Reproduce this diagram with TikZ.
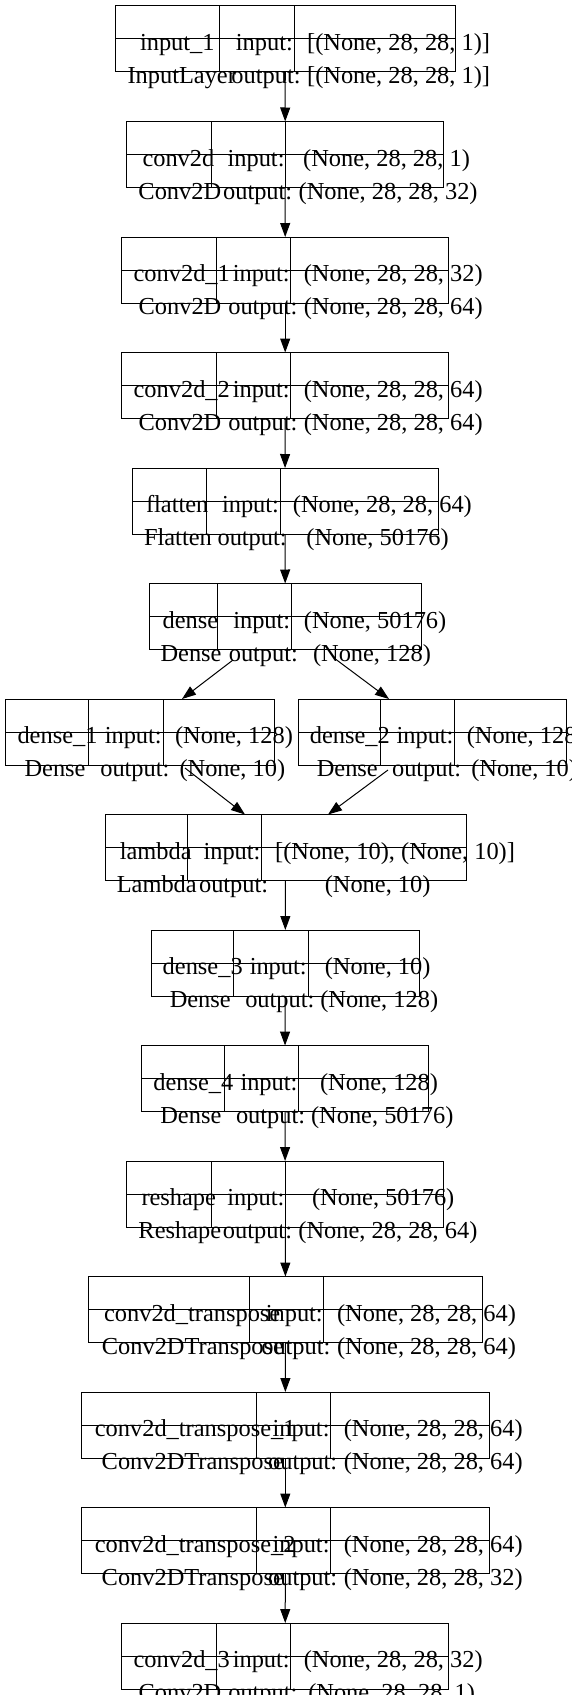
\documentclass[tikz,border=0pt]{standalone}
\usepackage{fontspec}
\setmainfont{Liberation Serif}
\usetikzlibrary{arrows.meta,calc}

\newcommand\shapefont{\fontsize{18.3}{22}\selectfont}
\newcommand\putlabel[4]{\node[lbl, anchor=base] (#1-w) at ({#2},{#3}) {\phantom{#4}};
  \node[lbl] (#1) at ($(#1-w.base west)!0.26!(#1-w.base)$) {#4};}

\begin{document}
\begin{tikzpicture}[x=0.75pt,y=-0.75pt,line width=0.75pt,
  layer/.style={draw, minimum height=49.5pt, inner sep=0, outer sep=0},
  lbl/.style={font=\shapefont, inner sep=0, anchor=base west},
  arr/.style={-{Triangle[length=10.5pt,width=7.5pt]}}]
\useasboundingbox (0,0) rectangle (571,1695);

\foreach \nd/\ty/\xa/\xb/\xc/\xd/\lname/\lclass/\shin/\shout in {
  input1/6/115.4/219.6/294.2/455.2/{input\_1}/InputLayer/{[(None, 28, 28, 1)]}/{[(None, 28, 28, 1)]},
  conv2d/121.5/126.7/211.2/285.9/443.6/conv2d/Conv2D/{(None, 28, 28, 1)}/{(None, 28, 28, 32)},
  conv2d1/237/121.5/216.7/290.8/448.9/{conv2d\_1}/Conv2D/{(None, 28, 28, 32)}/{(None, 28, 28, 64)},
  conv2d2/352.5/121.5/216.7/290.8/448.9/{conv2d\_2}/Conv2D/{(None, 28, 28, 64)}/{(None, 28, 28, 64)},
  flatten/468/132/206/280/438/flatten/Flatten/{(None, 28, 28, 64)}/{(None, 50176)},
  dense/583.5/149/217/291.5/421.5/dense/Dense/{(None, 50176)}/{(None, 128)},
  dense1/699/5.5/88.5/163/274/{dense\_1}/Dense/{(None, 128)}/{(None, 10)},
  dense2/699/298/380.5/454.5/566/{dense\_2}/Dense/{(None, 128)}/{(None, 10)},
  lambda/814.5/105/187.5/261.5/466/lambda/Lambda/{[(None, 10), (None, 10)]}/{(None, 10)},
  dense3/930/151/233.4/308/419.5/{dense\_3}/Dense/{(None, 10)}/{(None, 128)},
  dense4/1045.5/141.3/224.3/298.6/428.6/{dense\_4}/Dense/{(None, 128)}/{(None, 50176)},
  reshape/1161/126.7/211.2/285.5/443.6/reshape/Reshape/{(None, 50176)}/{(None, 28, 28, 64)},
  convT/1276.5/88.5/249.8/323.7/482.5/{conv2d\_transpose}/Conv2DTranspose/{(None, 28, 28, 64)}/{(None, 28, 28, 64)},
  convT1/1392/81.6/256.4/330.7/489/{conv2d\_transpose\_1}/Conv2DTranspose/{(None, 28, 28, 64)}/{(None, 28, 28, 64)},
  convT2/1507.5/81.6/256.4/330.7/489/{conv2d\_transpose\_2}/Conv2DTranspose/{(None, 28, 28, 64)}/{(None, 28, 28, 32)},
  conv2d3/1623/121.5/216.7/290.8/448.9/{conv2d\_3}/Conv2D/{(None, 28, 28, 32)}/{(None, 28, 28, 1)}}{
  \node[layer, minimum width={(\xd-\xa)*0.75pt}] (\nd) at ({(\xa+\xd)/2},\ty+33) {};
  \draw (\xa,\ty+33) -- (\xd,\ty+33) (\xb,\ty) -- (\xb,\ty+66) (\xc,\ty) -- (\xc,\ty+66);
  \putlabel{\nd-name}{(\xa+\xb)/2}{\ty+44.5}{\lname}
  \putlabel{\nd-class}{(\xa+\xb)/2}{\ty+77.5}{\lclass}
  \putlabel{\nd-in}{(\xb+\xc)/2}{\ty+44.5}{input:}
  \putlabel{\nd-out}{(\xb+\xc)/2}{\ty+77.5}{output:}
  \putlabel{\nd-inshape}{(\xc+\xd)/2}{\ty+44.5}{\shin}
  \putlabel{\nd-outshape}{(\xc+\xd)/2}{\ty+77.5}{\shout}
}

\foreach \p/\q in {input1/conv2d, conv2d/conv2d1, conv2d1/conv2d2, conv2d2/flatten, flatten/dense,
  lambda/dense3, dense3/dense4, dense4/reshape, reshape/convT, convT/convT1, convT1/convT2, convT2/conv2d3}
  \draw[arr] (\p) -- (\q);

% branch
\draw[arr] ([shift={(-52.25,10.5)}]dense.south) -- ([shift={(42.25,0)}]dense1.north);
\draw[arr] ([shift={(48.75,8.5)}]dense.south) -- ([shift={(-43,0)}]dense2.north);
\draw[arr] ([shift={(45.25,3)}]dense1.south) -- ([shift={(-40.5,0)}]lambda.north);
\draw[arr] ([shift={(-44,5)}]dense2.south) -- ([shift={(42.5,0)}]lambda.north);

\end{tikzpicture}
\end{document}
